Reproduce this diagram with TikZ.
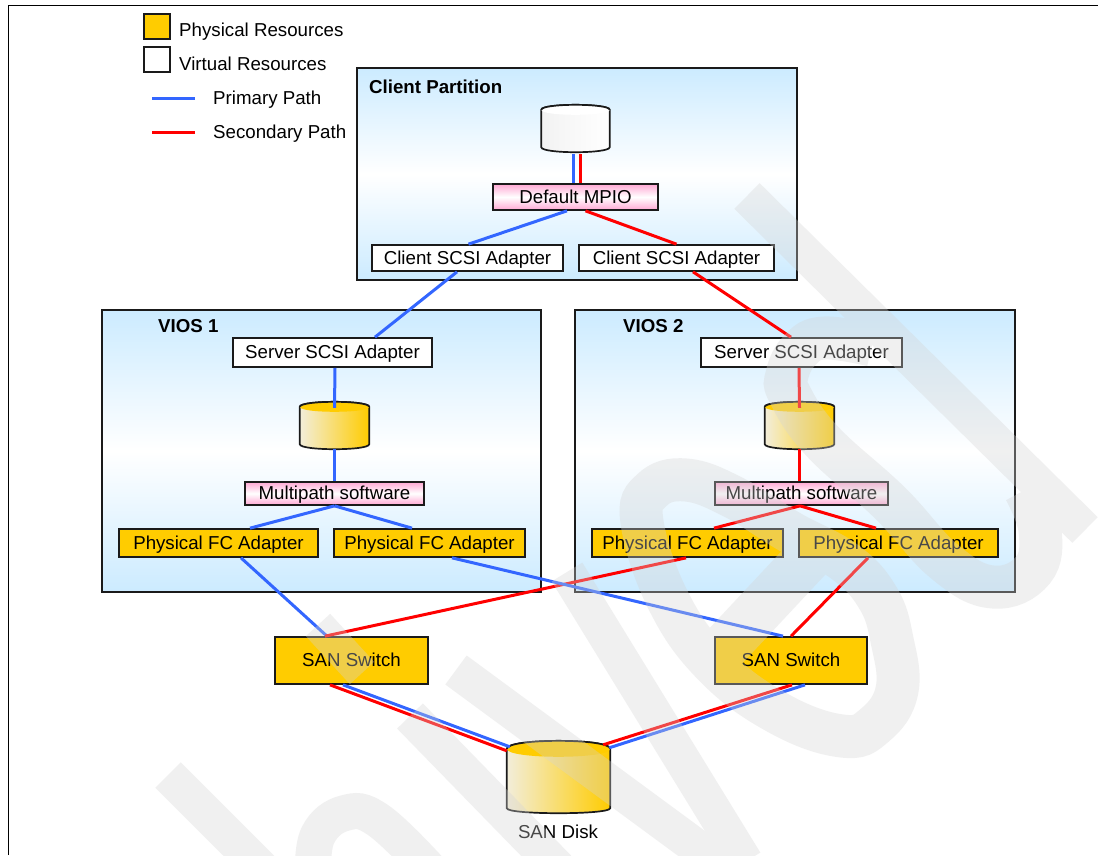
\documentclass[tikz,border=0pt]{standalone}
\usepackage{fontspec}
\setmainfont{Liberation Sans}
\definecolor{physcolor}{HTML}{FFCC00}
\definecolor{skycolor}{HTML}{CCEBFF}
\definecolor{pinkcolor}{HTML}{FFA8D4}
\definecolor{edgecolor}{HTML}{1A1A1A}
\definecolor{primcolor}{HTML}{3366FF}
\definecolor{seccolor}{HTML}{FF0000}
\definecolor{markcolor}{HTML}{D4D4D4}
\tikzset{
    label/.style={font=\fontsize{18.7}{21}\selectfont,text=black,inner sep=0pt,text height=15pt,text depth=2.5pt},
    boxbase/.style={label,draw=edgecolor,line width=1.7pt},
    physbox/.style={boxbase,fill=physcolor},
    virtbox/.style={boxbase,fill=white},
    softbox/.style={boxbase,top color=pinkcolor,bottom color=pinkcolor,middle color=white},
    partbox/.style={draw=edgecolor,line width=1.7pt,top color=skycolor,bottom color=skycolor,middle color=white,inner sep=0pt},
    title/.style={label,font=\fontsize{18.7}{21}\bfseries\selectfont,anchor=west},
    diskbox/.style={inner sep=0pt},
    primary/.style={draw=primcolor,line width=3pt},
    secondary/.style={draw=seccolor,line width=3pt},
    watermark/.style={draw=markcolor,line width=36pt},
    markbowl/.style={draw=markcolor,line width=43pt},
}
\newcommand{\drawdisk}[3]{
    \draw[edgecolor,line width=1.7pt,left color=#2!10!white!95!black,right color=#2]
        ([yshift=-#3 pt]#1.north west) .. controls ([yshift=0.33*#3 pt]#1.north west) and ([yshift=0.33*#3 pt]#1.north east) .. ([yshift=-#3 pt]#1.north east)
        -- ([yshift=5pt]#1.south east) .. controls ([yshift=-1.67pt]#1.south east) and ([yshift=-1.67pt]#1.south west) .. ([yshift=5pt]#1.south west) -- cycle;
    \fill[#2] ([yshift=-#3 pt]#1.north west) .. controls ([yshift=0.33*#3 pt]#1.north west) and ([yshift=0.33*#3 pt]#1.north east) .. ([yshift=-#3 pt]#1.north east)
        .. controls ([yshift=-2.33*#3 pt]#1.north east) and ([yshift=-2.33*#3 pt]#1.north west) .. cycle;
    \draw[edgecolor,line width=1.7pt] ([yshift=-#3 pt]#1.north west) .. controls ([yshift=0.33*#3 pt]#1.north west) and ([yshift=0.33*#3 pt]#1.north east) .. ([yshift=-#3 pt]#1.north east);
}
\begin{document}
\begin{tikzpicture}[x=1pt,y=-1pt]
    \useasboundingbox (0,0) rectangle (1098,855);
    \fill[white] (0,0) rectangle (1098,855);
    \draw[black,line width=1pt] (8,855) -- (8,5.5) -- (1098,5.5);

    \node[physbox,minimum width=26,minimum height=25,text height=0pt,text depth=0pt] (keyphys) at (157,26.5) {};
    \node[virtbox,minimum width=26,minimum height=25,text height=0pt,text depth=0pt] (keyvirt) at (157,59.5) {};
    \node[label,anchor=west] (keyphystext) at (179,30) {Physical Resources};
    \node[label,anchor=west] (keyvirttext) at (179,64) {Virtual Resources};
    \coordinate (keyprima) at (152,98);
    \coordinate (keyprimb) at (195,98);
    \coordinate (keyseca) at (152,132);
    \coordinate (keysecb) at (195,132);
    \draw[primary] (keyprima) -- (keyprimb);
    \draw[secondary] (keyseca) -- (keysecb);
    \node[label,anchor=west] (keyprimtext) at (213,98) {Primary Path};
    \node[label,anchor=west] (keysectext) at (213,132) {Secondary Path};

    \node[partbox,minimum width=440,minimum height=212] (client) at (577,174) {};
    \node[partbox,minimum width=439,minimum height=282] (viosa) at (321.5,451) {};
    \node[partbox,minimum width=440,minimum height=282] (viosb) at (795,451) {};
    \node[title] (clienttitle) at (369,87.5) {Client Partition};
    \node[title] (viosatitle) at (158,326.5) {VIOS 1};
    \node[title] (viosbtitle) at (623,326.5) {VIOS 2};

    \node[diskbox,minimum width=68,minimum height=47] (dclient) at (575.5,128.5) {};
    \node[diskbox,minimum width=69,minimum height=47] (dviosa) at (334.5,425.5) {};
    \node[diskbox,minimum width=69,minimum height=47] (dviosb) at (799.5,425.5) {};
    \node[diskbox,minimum width=103,minimum height=72] (san) at (558.5,777) {};
    \drawdisk{dclient}{white}{5}
    \drawdisk{dviosa}{physcolor}{5}
    \drawdisk{dviosb}{physcolor}{5}
    \drawdisk{san}{physcolor}{8}
    \node[label] (santext) at (558,832) {SAN Disk};

    \node[softbox,minimum width=165,minimum height=26] (mpio) at (575.5,197) {Default MPIO};
    \node[virtbox,minimum width=191,minimum height=26] (clienta) at (467.5,258) {Client SCSI Adapter};
    \node[virtbox,minimum width=195,minimum height=26] (clientb) at (676.5,258) {Client SCSI Adapter};
    \node[virtbox,minimum width=199,minimum height=29] (servera) at (332.5,352.5) {Server SCSI Adapter};
    \node[virtbox,minimum width=201,minimum height=29] (serverb) at (801.5,352.5) {Server SCSI Adapter};
    \node[softbox,minimum width=179,minimum height=23] (multia) at (334.5,493.5) {Multipath software};
    \node[softbox,minimum width=173,minimum height=23] (multib) at (801.5,493.5) {Multipath software};
    \node[physbox,minimum width=199,minimum height=28] (fca) at (218.5,543) {Physical FC Adapter};
    \node[physbox,minimum width=191,minimum height=28] (fcb) at (429.5,543) {Physical FC Adapter};
    \node[physbox,minimum width=191,minimum height=28] (fcc) at (687.5,543) {Physical FC Adapter};
    \node[physbox,minimum width=199,minimum height=28] (fcd) at (898.5,543) {Physical FC Adapter};
    \node[physbox,minimum width=153,minimum height=47] (swa) at (351.5,660.5) {SAN Switch};
    \node[physbox,minimum width=152,minimum height=47] (swb) at (791,660.5) {SAN Switch};

    \draw[primary] ([xshift=-2pt,yshift=-2pt]dclient.south) -- ([xshift=-2pt]mpio.north);
    \draw[secondary] ([xshift=5pt,yshift=-2pt]dclient.south) -- ([xshift=5pt]mpio.north);
    \draw[primary] ([xshift=-8.5pt]mpio.south) -- ([xshift=1pt]clienta.north);
    \draw[secondary] ([xshift=10pt]mpio.south) -- (clientb.north);
    \draw[primary] ([xshift=-10.5pt]clienta.south) -- ([xshift=42.5pt]servera.north);
    \draw[secondary] ([xshift=16.5pt]clientb.south) -- ([xshift=-10.5pt]serverb.north);
    \draw[primary] ([xshift=2.5pt]servera.south) -- ([yshift=-6pt]dviosa.north);
    \draw[secondary] ([xshift=-2.5pt]serverb.south) -- ([yshift=-6pt]dviosb.north);
    \draw[primary] (dviosa.south) -- (multia.north);
    \draw[secondary] (dviosb.south) -- ([xshift=-2pt]multib.north);
    \draw[primary] (multia.south) -- ([xshift=31.5pt]fca.north);
    \draw[primary] (multia.south) -- ([xshift=-17.5pt]fcb.north);
    \draw[secondary] ([xshift=-1.5pt]multib.south) -- ([xshift=26.5pt]fcc.north);
    \draw[secondary] ([xshift=-1.5pt]multib.south) -- ([xshift=-22.5pt]fcd.north);
    \draw[primary] ([xshift=22.5pt]fca.south) -- ([xshift=-24.5pt]swa.north);
    \draw[secondary] ([xshift=-1.5pt]fcc.south) -- ([xshift=-26.5pt]swa.north);
    \draw[primary] ([xshift=22.5pt]fcb.south) -- ([xshift=-8pt]swb.north);
    \draw[secondary] ([xshift=-30.5pt]fcd.south) -- (swb.north);
    \draw[secondary] ([xshift=-21.5pt]swa.south) -- ([yshift=-10pt]san.north west);
    \draw[primary] ([xshift=-8.5pt]swa.south) -- ([xshift=3pt,yshift=-6pt]san.north west);
    \draw[secondary] ([xshift=1pt]swb.south) -- ([xshift=-7pt,yshift=-4pt]san.north east);
    \draw[primary] ([xshift=14pt]swb.south) -- ([xshift=-1pt,yshift=-7pt]san.north east);

    \begin{scope}[transparency group,opacity=0.34]
        \clip (0,0) rectangle (1098,855);
        \draw[watermark] (747,196) -- (1085,530);
        \draw[markbowl] plot[smooth,tension=0.7] coordinates {(872,345) (824,338) (800,350) (787,375) (790,395) (822,441) (890,503) (945,562) (993,587) (1033,570) (1040,530) (1025,490)};
        \draw[markbowl] plot[smooth cycle,tension=0.7] coordinates {(642,522) (652,490) (686,480) (733,497) (790,532) (845,562) (878,598) (892,640) (897,690) (875,725) (842,736) (778,713) (714,665) (668,600)};
        \draw[markbowl,line width=48pt] (722,650) -- (808,558);
        \draw[watermark] (567,572) -- (745,862);
        \draw[watermark] (456,670) -- (725,868);
        \draw[watermark] (410,716) -- (560,870);
        \draw[watermark] (168,775) -- (265,872);
        \draw[watermark,line width=33pt] (318,625) -- (362,673);
        \draw[watermark] plot[smooth,tension=0.7] coordinates {(313,875) (318,835) (345,813) (378,820) (430,870)};
    \end{scope}
\end{tikzpicture}
\end{document}
